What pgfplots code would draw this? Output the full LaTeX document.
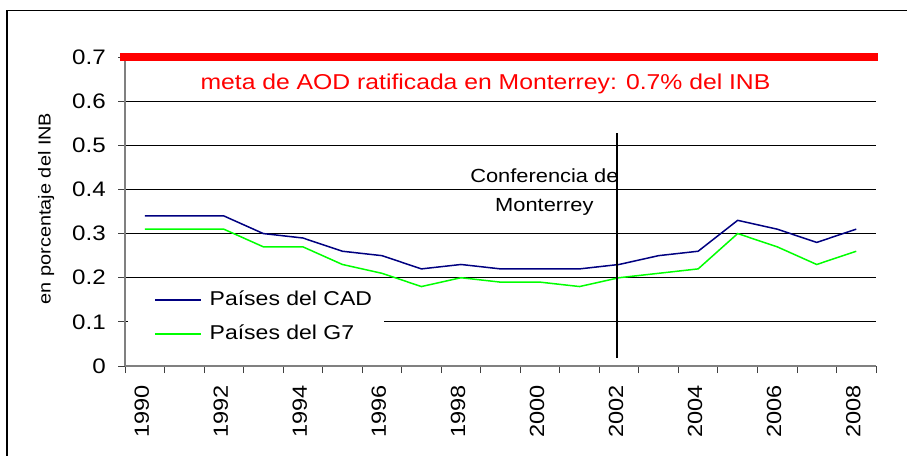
\documentclass[border=0pt]{standalone}
\usepackage{pgfplots}
\pgfplotsset{compat=1.18}
\usepackage{fontspec}
\setmainfont{Liberation Sans}[FakeStretch=1.15]
\definecolor{cadblue}{RGB}{0,0,128}
\definecolor{gseven}{RGB}{0,255,0}
\definecolor{axgray}{RGB}{128,128,128}
\begin{document}
\begin{tikzpicture}
\begin{axis}[
  at={(125pt,-366pt)}, anchor=south west,
  scale only axis, width=751pt, height=309pt,
  xmin=-0.5, xmax=18.5, ymin=0, ymax=0.7,
  clip=false,
  axis x line*=bottom, axis y line*=left,
  axis line style={draw=axgray, line width=1.2pt, -},
  tick align=outside,
  major tick length=7pt,
  tick style={draw=black!75, line width=0.9pt},
  xtick={-0.5,0.5,...,18.5},
  xticklabels={},
  extra x ticks={0,2,4,6,8,10,12,14,16,18},
  extra x tick labels={1990,1992,1994,1996,1998,2000,2002,2004,2006,2008},
  extra x tick style={major tick length=0pt, tick style={draw=none},
    xticklabel style={yshift=-19pt, xshift=-3pt, rotate=90, anchor=east, inner sep=0pt, font=\fontsize{20.5}{24}\selectfont}},
  ytick={0,0.1,...,0.7},
  /pgf/number format/fixed, /pgf/number format/precision=1,
  /pgf/number format/assume math mode=true,
  yticklabel style={inner sep=0pt, xshift=-12pt, font=\fontsize{21}{25}\selectfont},
  ymajorgrids,
  grid style={black, line width=0.9pt},
  ylabel={en porcentaje del INB},
  ylabel style={font=\fontsize{17.3}{20}\selectfont, at={(axis description cs:-0.105,0.51)}, anchor=center},
  legend style={at={(axis description cs:0.004,0.2686)}, anchor=north west,
    draw=none, fill=white, font=\fontsize{20}{24}\selectfont,
    inner xsep=0pt, inner ysep=0pt,
    nodes={text height=15pt, text depth=5pt, inner ysep=7pt, inner xsep=3.5pt},
    row sep=0pt},
  legend cell align=left,
  legend image code/.code={\path (0pt,0pt) (76.5pt,0pt); \draw[#1] (26.5pt,0pt) -- (72.5pt,0pt);},
  legend columns=1,
]
\addplot[red, line width=7.5pt, forget plot] coordinates {(-0.63,0.7) (18.55,0.7)};
\addplot[cadblue, line width=1.5pt] coordinates {
(0,0.34) (1,0.34) (2,0.34) (3,0.30) (4,0.29) (5,0.26) (6,0.25) (7,0.22) (8,0.23) (9,0.22)
(10,0.22) (11,0.22) (12,0.23) (13,0.25) (14,0.26) (15,0.33) (16,0.31) (17,0.28) (18,0.31)};
\addlegendentry{Países del CAD\hspace*{8pt}}
\addplot[gseven, line width=1.5pt] coordinates {
(0,0.31) (1,0.31) (2,0.31) (3,0.27) (4,0.27) (5,0.23) (6,0.21) (7,0.18) (8,0.20) (9,0.19)
(10,0.19) (11,0.18) (12,0.20) (13,0.21) (14,0.22) (15,0.30) (16,0.27) (17,0.23) (18,0.26)};
\addlegendentry{Países del G7}
\addplot[black, line width=2pt, forget plot] coordinates {(11.95,0.018) (11.95,0.528)};
\node[red, font=\fontsize{21.5}{25}\selectfont, anchor=base] at (axis cs:8.62,0.6275) {meta de AOD ratificada en Monterrey: 0.7\% del INB};
\node[black, font=\fontsize{19}{29}\selectfont, align=center, anchor=center] at (axis cs:10.11,0.393) {Conferencia de\\Monterrey};
\end{axis}
\draw[black, line width=1.3pt] (7pt,-10.5pt) rectangle (930pt,-480pt);
\pgfresetboundingbox
\path[use as bounding box] (0pt,0pt) rectangle (907pt,-455pt);
\end{tikzpicture}
\end{document}
